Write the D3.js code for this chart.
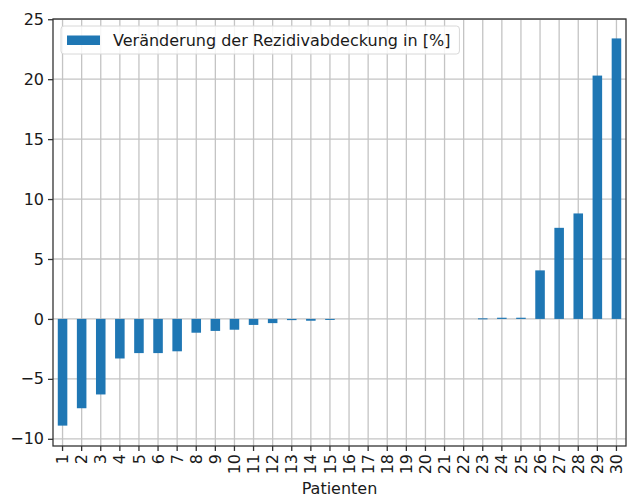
<!DOCTYPE html>
<html>
<head>
<meta charset="utf-8">
<script src="https://cdn.jsdelivr.net/npm/d3@7"></script>
<style>
  html, body { margin: 0; padding: 0; background: #fff; }
  svg { display: block; font-family: "DejaVu Sans", sans-serif; }
</style>
</head>
<body>
<svg id="chart" width="630" height="497"></svg>
<script>
// Patients 1..30 and the change in recurrence coverage (%)
const patients = d3.range(1, 31).map(String);
const changeValues = [
  -8.9, -7.45, -6.3, -3.3, -2.85, -2.85, -2.7, -1.15, -1.0, -0.9,
  -0.5, -0.35, -0.1, -0.15, -0.05, 0, 0, 0, 0, 0,
  0, 0, 0.05, 0.1, 0.1, 4.05, 7.6, 8.8, 20.3, 23.4
];
const yTicks = [-10, -5, 0, 5, 10, 15, 20, 25];
const seriesLabel = "Veränderung der Rezidivabdeckung in [%]";
const xTitle = "Patienten";

const svg = d3.select("#chart");
const margin = { left: 53, right: 4, top: 19, bottom: 51 };
const W = 630, H = 497;
const plotW = W - margin.left - margin.right;
const plotH = H - margin.top - margin.bottom;
const fontSize = "16px";
const textColor = "#1a1a1a";

const x = d3.scaleBand().domain(patients).range([0, plotW]).paddingInner(0.5).paddingOuter(0.25);
const y = d3.scaleLinear().domain([-10.6, 25.02]).range([plotH, 0]);

const g = svg.append("g").attr("transform", `translate(${margin.left},${margin.top})`);

// grid lines
const gridColor = "#c4c4c4";
g.append("g").selectAll("line").data(yTicks).join("line")
  .attr("x1", 0).attr("x2", plotW)
  .attr("y1", d => y(d)).attr("y2", d => y(d))
  .attr("stroke", gridColor).attr("stroke-width", 1.3);
g.append("g").selectAll("line").data(patients).join("line")
  .attr("x1", d => x(d) + x.bandwidth() / 2).attr("x2", d => x(d) + x.bandwidth() / 2)
  .attr("y1", 0).attr("y2", plotH)
  .attr("stroke", gridColor).attr("stroke-width", 1.3);

// bars
g.append("g").selectAll("rect").data(changeValues).join("rect")
  .attr("x", (d, i) => x(patients[i]))
  .attr("width", x.bandwidth())
  .attr("y", d => y(Math.max(0, d)))
  .attr("height", d => Math.max(Math.abs(y(d) - y(0)), d === 0 ? 0 : 1))
  .attr("fill", "#1f77b4");

// axes
const yAxis = g.append("g").call(d3.axisLeft(y).tickValues(yTicks).tickSize(5).tickPadding(4)
  .tickFormat(d => d < 0 ? "\u2212" + Math.abs(d) : d));
const xAxis = g.append("g").attr("transform", `translate(0,${plotH})`)
  .call(d3.axisBottom(x).tickSize(5).tickPadding(4));
[yAxis, xAxis].forEach(a => {
  a.select(".domain").remove();
  a.selectAll(".tick line").attr("stroke", "#333").attr("stroke-width", 1.3);
  a.selectAll("text").attr("fill", textColor).style("font-size", fontSize)
    .style("font-family", "'DejaVu Sans', sans-serif");
});
xAxis.selectAll("text")
  .attr("transform", "rotate(-90)")
  .attr("text-anchor", "end")
  .attr("x", -8).attr("y", 0).attr("dy", "0.35em");

// frame
g.append("rect").attr("x", 0).attr("y", 0).attr("width", plotW).attr("height", plotH)
  .attr("fill", "none").attr("stroke", "#333").attr("stroke-width", 1.3);

// x title
svg.append("text").attr("x", margin.left + plotW / 2).attr("y", 494)
  .attr("text-anchor", "middle").attr("fill", textColor).style("font-size", fontSize)
  .text(xTitle);

// legend
const leg = g.append("g").attr("transform", "translate(8,7)");
const legText = leg.append("text").attr("x", 52).attr("y", 14.5).attr("dy", "0.35em")
  .attr("fill", textColor).style("font-size", fontSize).text(seriesLabel);
const tw = legText.node().getComputedTextLength();
leg.insert("rect", "text").attr("x", 0).attr("y", 0).attr("width", 52 + tw + 9).attr("height", 28)
  .attr("rx", 3).attr("fill", "#fff").attr("fill-opacity", 0.85)
  .attr("stroke", "#d8d8d8").attr("stroke-width", 1);
leg.insert("rect", "text").attr("x", 6).attr("y", 9.5).attr("width", 33).attr("height", 9.5)
  .attr("fill", "#1f77b4");
</script>
</body>
</html>
